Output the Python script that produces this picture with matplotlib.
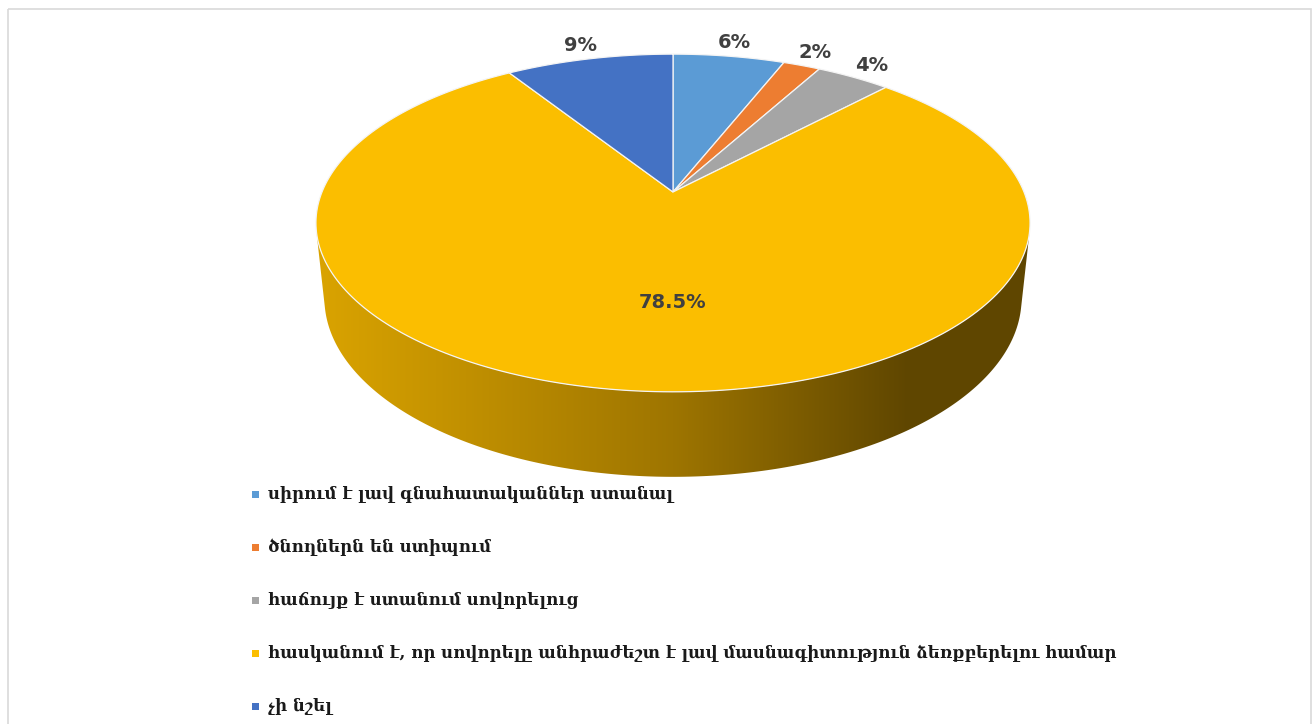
import numpy as np
import matplotlib.pyplot as plt
from matplotlib.patches import Polygon, Rectangle
from matplotlib.colors import LinearSegmentedColormap

labels = [
    "սիրում է լավ գնահատականներ ստանալ",
    "ծնողներն են ստիպում",
    "հաճույք է ստանում սովորելուց",
    "հասկանում է, որ սովորելը անհրաժեշտ է լավ մասնագիտություն ձեռքբերելու համար",
    "չի նշել",
]
values = [6, 2, 4, 78.5, 9]
value_text = ["6%", "2%", "4%", "78.5%", "9%"]
colors = ["#5B9BD5", "#ED7D31", "#A5A5A5", "#FBBE00", "#4472C4"]

W, H = 1313, 724
CX, CY, S = 673, 192, 351
ELEV = np.radians(27.7)
K = 0.2072       # perspective strength
DEPTH = 0.245    # pie thickness (radius units)


def project(x, y, z):
    depth = y * np.cos(ELEV) - z * np.sin(ELEV)
    up = y * np.sin(ELEV) + z * np.cos(ELEV)
    d = 1 + K * depth
    return CX + S * x / d, CY - S * up / d


def rim(a0, a1, z=0.0, r=1.0, n=240):
    a = np.radians(np.linspace(a0, a1, n))
    px, py = project(r * np.cos(a), r * np.sin(a), z)
    return np.column_stack([px, py])


fig = plt.figure(figsize=(W / 100, H / 100), dpi=100)
ax = fig.add_axes([0, 0, 1, 1])
ax.set_xlim(0, W)
ax.set_ylim(H, 0)
ax.axis("off")

ax.add_patch(Rectangle((7.5, 8.5), 1303, 740, fill=False, edgecolor="#d9d9d9", lw=1.2))

total = sum(values)
bounds = 90 - 360 * np.concatenate([[0], np.cumsum(values)]) / total

# visible part of the side wall
delta = np.degrees(np.arcsin(K / np.cos(ELEV)))
vis_lo, vis_hi = -180 + delta, -delta

side_cmap = LinearSegmentedColormap.from_list(
    "side", [(0, "#DCA500"), (0.5, "#9E7500"), (0.82, "#5F4600"), (1, "#604700")]
)
xl = project(-1 / np.sqrt(1 - (K * np.cos(ELEV)) ** 2), -K * np.cos(ELEV), 0)[0]
xr = 2 * CX - xl

for i in range(len(values)):
    a_start, a_end = bounds[i], bounds[i + 1]
    for shift in (-360, 0, 360):
        lo = max(a_end, vis_lo + shift)
        hi = min(a_start, vis_hi + shift)
        if hi <= lo:
            continue
        pts = np.vstack([rim(lo, hi, 0), rim(hi, lo, -DEPTH)])
        poly = Polygon(pts, closed=True, facecolor="none", edgecolor="none")
        ax.add_patch(poly)
        img = ax.imshow(np.linspace(0, 1, 256)[None, :], cmap=side_cmap,
                        extent=[xl, xr, 500, 150], aspect="auto", zorder=1)
        img.set_clip_path(poly)

for i in range(len(values)):
    a_start, a_end = bounds[i], bounds[i + 1]
    pts = np.vstack([[project(0, 0, 0)], rim(a_start, a_end, 0)])
    ax.add_patch(Polygon(pts, closed=True, facecolor=colors[i],
                         edgecolor="#f4f4f4", lw=0.9, zorder=2))

# labels
for i in range(len(values)):
    mid = (bounds[i] + bounds[i + 1]) / 2
    if values[i] / total > 0.5:
        lx, ly = project(0, -0.6, 0)
    else:
        a = np.radians(mid)
        lx, ly = project(1.12 * np.cos(a), 1.12 * np.sin(a), 0)
    ax.text(lx, ly, value_text[i], ha="center", va="center", fontsize=14,
            fontweight="bold", color="#404040", zorder=3)

# legend
for i, lab in enumerate(labels):
    y = 494 + 53 * i
    ax.add_patch(Rectangle((252, y - 3.5), 7, 7, facecolor=colors[i], edgecolor="none"))
    ax.text(268, y, lab, ha="left", va="center", fontsize=12, fontweight="bold",
            color="#1a1a1a", family=["DejaVu Serif", "DejaVu Sans"])

fig.savefig("out.png", dpi=100)
